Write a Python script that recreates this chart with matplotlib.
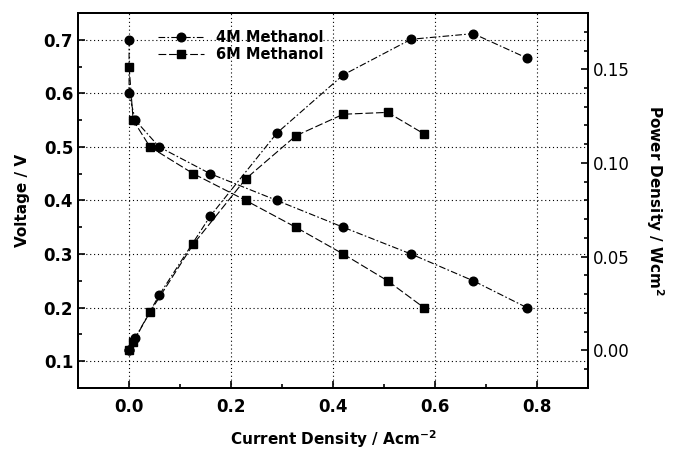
import matplotlib
matplotlib.use("Agg")
import matplotlib.pyplot as plt
from matplotlib.ticker import MultipleLocator

plt.rcParams["font.family"] = ["DejaVu Sans"]
plt.rcParams["mathtext.default"] = "bf"

# 4M methanol: polarisation (voltage) and power curves
i_4m = [0.0, 0.0, 0.012, 0.059, 0.159, 0.290, 0.420, 0.553, 0.675, 0.780]
v_4m = [0.70, 0.60, 0.55, 0.50, 0.45, 0.40, 0.35, 0.30, 0.25, 0.20]
p_4m = [0.0, 0.0, 0.0066, 0.0295, 0.0716, 0.116, 0.147, 0.166, 0.169, 0.156]

# 6M methanol
i_6m = [0.0, 0.008, 0.041, 0.126, 0.229, 0.327, 0.420, 0.507, 0.578]
v_6m = [0.65, 0.55, 0.50, 0.45, 0.40, 0.35, 0.30, 0.25, 0.20]
p_6m = [0.0, 0.0044, 0.0205, 0.0567, 0.0916, 0.1145, 0.126, 0.127, 0.1156]

DASHDOT = (0, (6, 2, 1.5, 2))
DASHED = (0, (7, 2.5))

fig = plt.figure(figsize=(6.79, 4.49), dpi=100)
ax = fig.add_axes([0.115, 0.136, 0.751, 0.835])
ax2 = ax.twinx()

ax.plot(i_4m, v_4m, color="black", lw=0.8, ls=DASHDOT, marker="o", ms=6.2, label="4M Methanol")
ax.plot(i_6m, v_6m, color="black", lw=0.8, ls=DASHED, marker="s", ms=5.8, label="6M Methanol")
ax2.plot(i_4m, p_4m, color="black", lw=0.8, ls=DASHDOT, marker="o", ms=6.2)
ax2.plot(i_6m, p_6m, color="black", lw=0.8, ls=DASHED, marker="s", ms=5.8)

ax.xaxis.set_major_locator(MultipleLocator(0.2))
ax.xaxis.set_minor_locator(MultipleLocator(0.1))
ax.yaxis.set_major_locator(MultipleLocator(0.1))
ax.yaxis.set_minor_locator(MultipleLocator(0.05))
ax2.yaxis.set_major_locator(MultipleLocator(0.05))
ax2.yaxis.set_minor_locator(MultipleLocator(0.01))

ax.grid(True, which="major", color="black", ls=(0, (1, 2.5)), lw=0.8)

for a in (ax, ax2):
    a.tick_params(which="both", direction="in", width=1.2)
    a.tick_params(which="major", length=5)
    a.tick_params(which="minor", length=3)
    for s in a.spines.values():
        s.set_linewidth(1.4)
ax.tick_params(axis="x", pad=7)

ax.set_xticks(ax.get_xticks())
ax.set_yticks(ax.get_yticks())
ax2.set_yticks(ax2.get_yticks())
ax.set_xticklabels(["%.1f" % t for t in ax.get_xticks()], fontweight="bold", fontsize=12)
ax.set_yticklabels(["%.1f" % t for t in ax.get_yticks()], fontweight="bold", fontsize=12)
ax2.set_yticklabels(["%.2f" % t for t in ax2.get_yticks()], fontsize=12)
ax.set_xlim(-0.1, 0.9)
ax.set_ylim(0.05, 0.75)
ax2.set_ylim(-0.02, 0.18)

ax.set_xlabel("Current Density / Acm$^{-2}$", fontsize=11, fontweight="bold", labelpad=9)
ax.set_ylabel("Voltage / V", fontsize=11, fontweight="bold", labelpad=10)
ax2.set_ylabel("Power Density / Wcm$^{2}$", fontsize=11, fontweight="bold",
               rotation=-90, labelpad=26)

leg = ax.legend(loc="upper left", bbox_to_anchor=(0.13, 0.99), frameon=False,
                handlelength=3.2, fontsize=10.5, labelspacing=0.15)
for t in leg.get_texts():
    t.set_fontweight("bold")

fig.savefig("out.png", dpi=100)
